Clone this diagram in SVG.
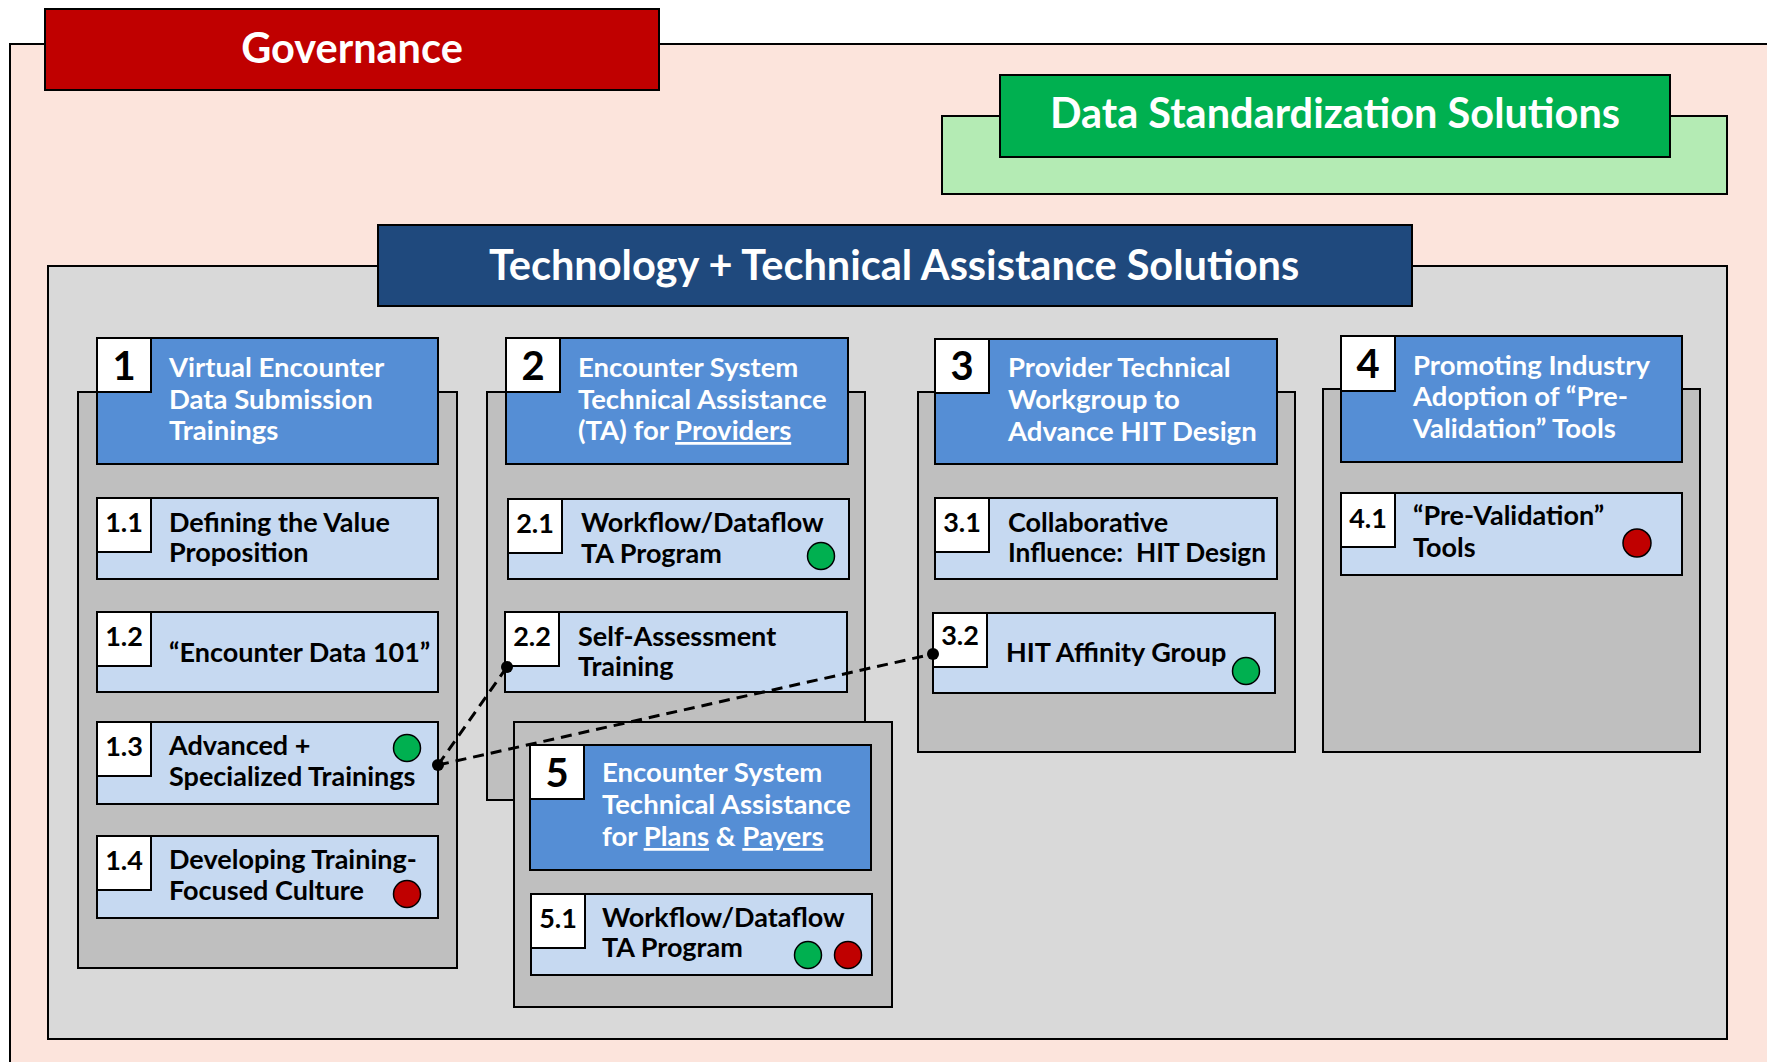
<svg xmlns="http://www.w3.org/2000/svg" width="1767" height="1062" viewBox="0 0 1767 1062">
<style>
.bd{stroke:#000;stroke-width:2}
.pink{fill:#FCE4DC}
.gov{fill:#C00000}
.lg{fill:#B4EBB4}
.dg{fill:#00B050}
.big{fill:#D9D9D9}
.navy{fill:#1F497D}
.col{fill:#BFBFBF}
.hdr{fill:#558ED5}
.sub{fill:#C6D9F1}
.num{fill:#FFFFFF}
text{font-family:Lato,"Liberation Sans",sans-serif;font-weight:bold}
.title{font-size:41.5px;fill:#fff;text-anchor:middle}
.ht{font-size:27.5px;fill:#fff}
.st{font-size:27px;fill:#000}
.bn{font-size:40px;fill:#000;text-anchor:middle}
.sn{font-size:27px;fill:#000;text-anchor:middle}
.u{text-decoration:underline}
.gdot{fill:#00B050;stroke:#000;stroke-width:1.5}
.rdot{fill:#C00000;stroke:#000;stroke-width:1.5}
.conn{stroke:#000;stroke-width:3;stroke-dasharray:11 7;fill:none}
</style>

<g id="governance-area">
<rect class="pink bd" x="10" y="44" width="1800" height="1100"/>
</g>
<g id="governance">
<rect class="gov bd" x="45" y="9" width="614" height="81"/>
<text class="title" x="352" y="63">Governance</text>
</g>

<g id="data-standardization">
<rect class="lg bd" x="942" y="116" width="785" height="78"/>
<rect class="dg bd" x="1000" y="75" width="670" height="82"/>
<text class="title" x="1335" y="128">Data Standardization Solutions</text>
</g>

<g id="technology-ta">
<rect class="big bd" x="48" y="266" width="1679" height="773"/>
<rect class="navy bd" x="378" y="225" width="1034" height="81"/>
<text class="title" x="894" y="280">Technology + Technical Assistance Solutions</text>
</g>

<g id="col1">
<rect class="col bd" x="78" y="392" width="379" height="576"/>
<g id="n1">
<rect class="hdr bd" x="97" y="338" width="341" height="126"/>
<rect class="num bd" x="97" y="338" width="54" height="54"/>
<text class="bn" x="124" y="380">1</text>
<text class="ht" x="169" y="377">Virtual Encounter<tspan x="169" dy="32">Data Submission</tspan><tspan x="169" dy="31">Trainings</tspan></text>
</g>
<g id="n1-1">
<rect class="sub bd" x="97" y="498" width="341" height="81"/>
<rect class="num bd" x="97" y="498" width="54" height="54"/>
<text class="sn" x="124" y="532">1.1</text>
<text class="st" x="169" y="532">Defining the Value<tspan x="169" dy="30">Proposition</tspan></text>
</g>
<g id="n1-2">
<rect class="sub bd" x="97" y="612" width="341" height="80"/>
<rect class="num bd" x="97" y="612" width="54" height="54"/>
<text class="sn" x="124" y="646">1.2</text>
<text class="st" x="169" y="662">“Encounter Data 101”</text>
</g>
<g id="n1-3">
<rect class="sub bd" x="97" y="722" width="341" height="82"/>
<rect class="num bd" x="97" y="722" width="54" height="54"/>
<text class="sn" x="124" y="756">1.3</text>
<text class="st" x="169" y="755">Advanced +<tspan x="169" dy="31">Specialized Trainings</tspan></text>
<circle class="gdot" cx="407" cy="748" r="13.5"/>
</g>
<g id="n1-4">
<rect class="sub bd" x="97" y="836" width="341" height="82"/>
<rect class="num bd" x="97" y="836" width="54" height="54"/>
<text class="sn" x="124" y="870">1.4</text>
<text class="st" x="169" y="869">Developing Training-<tspan x="169" dy="31">Focused Culture</tspan></text>
<circle class="rdot" cx="407" cy="894" r="13.5"/>
</g>
</g>

<g id="col2">
<rect class="col bd" x="487" y="392" width="378" height="408"/>
<g id="n2">
<rect class="hdr bd" x="506" y="338" width="342" height="126"/>
<rect class="num bd" x="506" y="338" width="54" height="54"/>
<text class="bn" x="533" y="380">2</text>
<text class="ht" x="578" y="377">Encounter System<tspan x="578" dy="32">Technical Assistance</tspan><tspan x="578" dy="31">(TA) for </tspan><tspan class="u">Providers</tspan></text>
</g>
<g id="n2-1">
<rect class="sub bd" x="508" y="499" width="341" height="80"/>
<rect class="num bd" x="508" y="499" width="54" height="54"/>
<text class="sn" x="535" y="533">2.1</text>
<text class="st" x="581" y="532">Workflow/Dataflow<tspan x="581" dy="31">TA Program</tspan></text>
<circle class="gdot" cx="821" cy="556" r="13.5"/>
</g>
<g id="n2-2">
<rect class="sub bd" x="505" y="612" width="342" height="80"/>
<rect class="num bd" x="505" y="612" width="54" height="54"/>
<text class="sn" x="532" y="646">2.2</text>
<text class="st" x="578" y="646">Self-Assessment<tspan x="578" dy="30">Training</tspan></text>
</g>
</g>

<g id="col5">
<rect class="col bd" x="514" y="722" width="378" height="285"/>
<g id="n5">
<rect class="hdr bd" x="530" y="745" width="341" height="125"/>
<rect class="num bd" x="530" y="745" width="54" height="54"/>
<text class="bn" x="557" y="787">5</text>
<text class="ht" x="602" y="782">Encounter System<tspan x="602" dy="32">Technical Assistance</tspan><tspan x="602" dy="32">for </tspan><tspan class="u">Plans</tspan><tspan> &amp; </tspan><tspan class="u">Payers</tspan></text>
</g>
<g id="n5-1">
<rect class="sub bd" x="531" y="894" width="341" height="81"/>
<rect class="num bd" x="531" y="894" width="54" height="54"/>
<text class="sn" x="558" y="928">5.1</text>
<text class="st" x="602" y="927">Workflow/Dataflow<tspan x="602" dy="30">TA Program</tspan></text>
<circle class="gdot" cx="808" cy="955" r="13.5"/>
<circle class="rdot" cx="848" cy="955" r="13.5"/>
</g>
</g>

<g id="col3">
<rect class="col bd" x="918" y="392" width="377" height="360"/>
<g id="n3">
<rect class="hdr bd" x="935" y="339" width="342" height="125"/>
<rect class="num bd" x="935" y="339" width="54" height="54"/>
<text class="bn" x="962" y="380">3</text>
<text class="ht" x="1008" y="377">Provider Technical<tspan x="1008" dy="32">Workgroup to</tspan><tspan x="1008" dy="32">Advance HIT Design</tspan></text>
</g>
<g id="n3-1">
<rect class="sub bd" x="935" y="498" width="342" height="81"/>
<rect class="num bd" x="935" y="498" width="54" height="54"/>
<text class="sn" x="962" y="532">3.1</text>
<text class="st" x="1008" y="532" xml:space="preserve">Collaborative<tspan x="1008" dy="30" textLength="258" lengthAdjust="spacingAndGlyphs">Influence:  HIT Design</tspan></text>
</g>
<g id="n3-2">
<rect class="sub bd" x="933" y="613" width="342" height="80"/>
<rect class="num bd" x="933" y="613" width="54" height="54"/>
<text class="sn" x="960" y="645">3.2</text>
<text class="st" x="1006" y="662">HIT Affinity Group</text>
<circle class="gdot" cx="1246" cy="671" r="13.5"/>
</g>
</g>

<g id="col4">
<rect class="col bd" x="1323" y="389" width="377" height="363"/>
<g id="n4">
<rect class="hdr bd" x="1341" y="336" width="341" height="126"/>
<rect class="num bd" x="1341" y="336" width="54" height="55"/>
<text class="bn" x="1368" y="378">4</text>
<text class="ht" x="1413" y="375">Promoting Industry<tspan x="1413" dy="31">Adoption of “Pre-</tspan><tspan x="1413" dy="32">Validation” Tools</tspan></text>
</g>
<g id="n4-1">
<rect class="sub bd" x="1341" y="493" width="341" height="82"/>
<rect class="num bd" x="1341" y="493" width="54" height="54"/>
<text class="sn" x="1368" y="528">4.1</text>
<text class="st" x="1413" y="525">“Pre-Validation”<tspan x="1413" dy="32">Tools</tspan></text>
<circle class="rdot" cx="1637" cy="543" r="14"/>
</g>
</g>

<g id="connectors">
<line class="conn" x1="438" y1="765" x2="507" y2="667"/>
<line class="conn" x1="438" y1="765" x2="933" y2="654"/>
<circle cx="438" cy="765" r="6"/>
<circle cx="507" cy="667" r="6"/>
<circle cx="933" cy="654" r="6"/>
</g>
</svg>
